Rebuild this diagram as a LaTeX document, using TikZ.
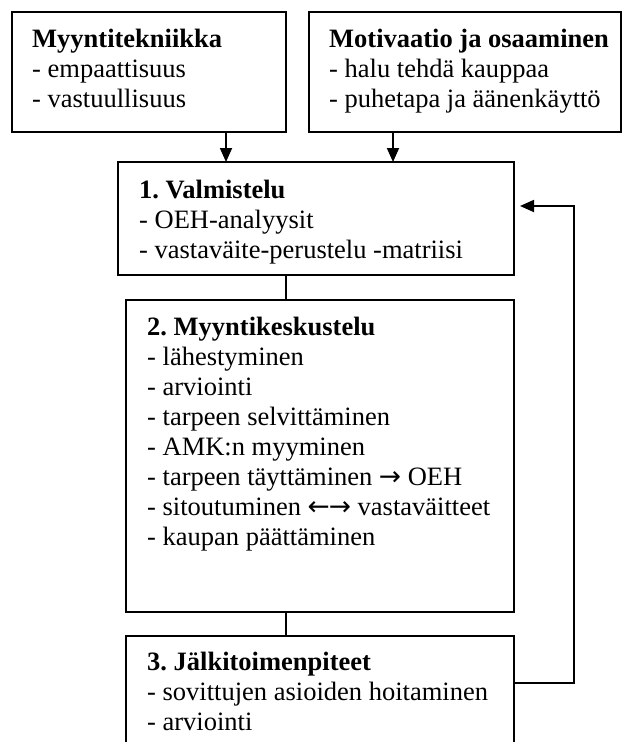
\documentclass[tikz,border=0pt]{standalone}
\usepackage{fontspec}
\setmainfont{Liberation Serif}
\newfontfamily\arrowfont{DejaVu Sans}
\usetikzlibrary{arrows.meta}
\frenchspacing
\begin{document}
\frenchspacing
\begin{tikzpicture}[x=1pt,y=-1pt,
  box/.style={draw, line width=1.8pt, rectangle, inner sep=0pt, outer sep=0pt, anchor=north west},
  txt/.style={anchor=base west, inner sep=0pt, font=\fontsize{26.5}{30}\selectfont},
  con/.style={line width=1.8pt},
  arr/.style={line width=1.8pt, -{Triangle[length=14pt,width=12pt]}}]
\useasboundingbox (0,0) rectangle (623,742);
% boxes
\node[box, minimum width=274pt, minimum height=120pt] (ma) at (12,12) {};
\node[box, minimum width=312pt, minimum height=120pt] (mb) at (309,12) {};
\node[box, minimum width=396pt, minimum height=113pt] (b1) at (118,162) {};
\node[box, minimum width=388pt, minimum height=312pt] (b2) at (126,300) {};
\node[box, minimum width=388pt, minimum height=130pt] (b3) at (126,636) {};
% texts
\node[txt] (ta) at (32,47) {\begin{tabular}[t]{@{}l@{}}\textbf{Myyntitekniikka}\\- empaattisuus\\- vastuullisuus\end{tabular}};
\node[txt] (tb) at (329,47) {\begin{tabular}[t]{@{}l@{}}\textbf{Motivaatio ja osaaminen}\\- halu tehdä kauppaa\\- puhetapa ja äänenkäyttö\end{tabular}};
\node[txt] (t1) at (139,198) {\begin{tabular}[t]{@{}l@{}}\textbf{1. Valmistelu}\\- OEH-analyysit\\- vastaväite-perustelu -matriisi\end{tabular}};
\node[txt] (t2) at (147,335) {\begin{tabular}[t]{@{}l@{}}\textbf{2. Myyntikeskustelu}\\- lähestyminen\\- arviointi\\- tarpeen selvittäminen\\- AMK:n myyminen\\- tarpeen täyttäminen {\arrowfont →} OEH\\- sitoutuminen {\arrowfont ←\kern-1pt→} vastaväitteet\\- kaupan päättäminen\end{tabular}};
\node[txt] (t3) at (147,670) {\begin{tabular}[t]{@{}l@{}}\textbf{3. Jälkitoimenpiteet}\\- sovittujen asioiden hoitaminen\\- arviointi\end{tabular}};
% connector positions
\coordinate (pa) at (226,0);
\coordinate (pb) at (393,0);
\coordinate (pc) at (286,0);
\coordinate (fbs) at (0,683);
\coordinate (fbx) at (574,206);
% connectors
\draw[arr] (ma.south -| pa) -- (b1.north -| pa);
\draw[arr] (mb.south -| pb) -- (b1.north -| pb);
\draw[con] (b1.south -| pc) -- (b2.north -| pc);
\draw[con] (b2.south -| pc) -- (b3.north -| pc);
\draw[arr, shorten >=6pt] (b3.east |- fbs) -| (fbx) -- (b1.east |- fbx);
\end{tikzpicture}
\end{document}
